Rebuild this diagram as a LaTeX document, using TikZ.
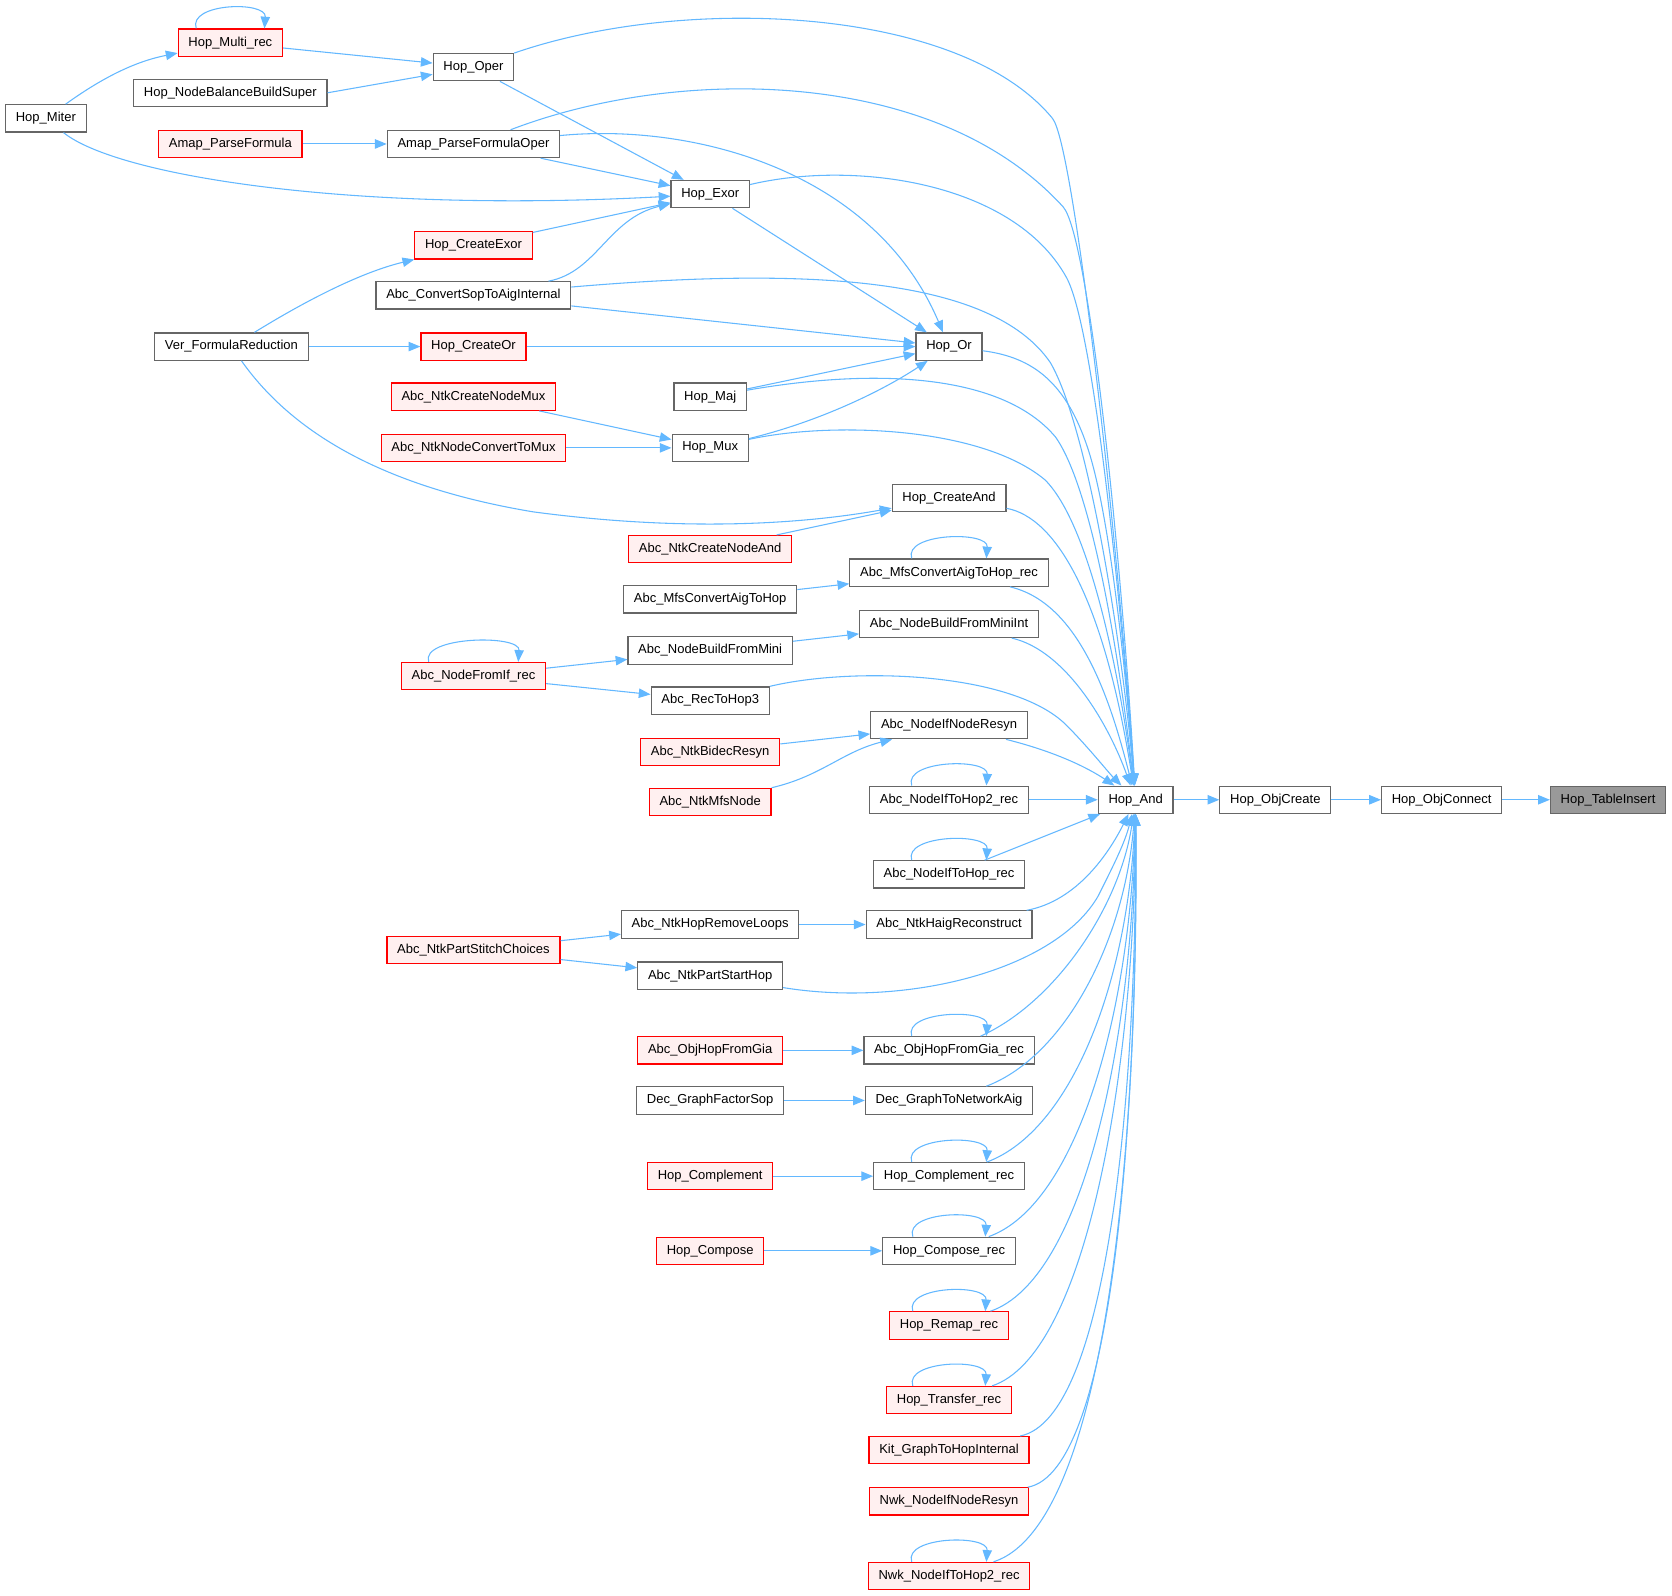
\documentclass[tikz,border=0pt]{standalone}
\usepackage{fontspec}
\setmainfont{Liberation Sans}
\usepackage{tikz}
\usetikzlibrary{arrows.meta}
\definecolor{edgeblue}{HTML}{63B8FF}
\definecolor{nodegray}{HTML}{666666}
\definecolor{nodered}{HTML}{FF0000}
\definecolor{nodepink}{HTML}{FFF0F0}
\definecolor{rootgray}{HTML}{999999}

\begin{document}
\begin{tikzpicture}[
  x=0.5pt, y=-0.5pt,
  font=\fontsize{6.1}{7.3}\selectfont,
  fn/.style={draw=nodegray, fill=white, inner xsep=4.8pt, inner ysep=0pt, minimum height=12.8pt, line width=0.55pt},
  fnred/.style={fn, draw=nodered, fill=nodepink},
  fnroot/.style={fn, fill=rootgray},
  arrow/.style={-{Triangle[length=5.5pt,width=4.4pt]}, draw=edgeblue, line width=0.5pt}
]
\path[fill=white, use as bounding box] (0,0) rectangle (1568,1496);

\node[fnred] (multirec) at (216,40) {Hop\_Multi\_rec};
\node[fn] (oper) at (444,63) {Hop\_Oper};
\node[fn] (nbbs) at (216,87) {Hop\_NodeBalanceBuildSuper};
\node[fn] (miter) at (43,111) {Hop\_Miter};
\node[fnred] (amapf) at (216,135) {Amap\_ParseFormula};
\node[fn] (amapoper) at (444,135) {Amap\_ParseFormulaOper};
\node[fn] (exor) at (666,182) {Hop\_Exor};
\node[fnred] (createexor) at (444,230) {Hop\_CreateExor};
\node[fn] (convsop) at (444,277) {Abc\_ConvertSopToAigInternal};
\node[fn] (verfr) at (217,325) {Ver\_FormulaReduction};
\node[fnred] (createor) at (444,325) {Hop\_CreateOr};
\node[fn] (hopor) at (890,325) {Hop\_Or};
\node[fn] (maj) at (666,372) {Hop\_Maj};
\node[fnred] (createmux) at (444,372) {Abc\_NtkCreateNodeMux};
\node[fnred] (convmux) at (444,420) {Abc\_NtkNodeConvertToMux};
\node[fn] (mux) at (666,420) {Hop\_Mux};
\node[fn] (createand) at (890,467) {Hop\_CreateAnd};
\node[fnred] (ntkand) at (666,515) {Abc\_NtkCreateNodeAnd};
\node[fn] (mfsrec) at (890,537) {Abc\_MfsConvertAigToHop\_rec};
\node[fn] (mfs) at (666,562) {Abc\_MfsConvertAigToHop};
\node[fn] (miniint) at (890,585) {Abc\_NodeBuildFromMiniInt};
\node[fn] (mini) at (666,610) {Abc\_NodeBuildFromMini};
\node[fnred] (ifrec) at (444,634) {Abc\_NodeFromIf\_rec};
\node[fn] (rec3) at (666,657) {Abc\_RecToHop3};
\node[fn] (ifresyn) at (890,680) {Abc\_NodeIfNodeResyn};
\node[fnred] (bidec) at (666,705) {Abc\_NtkBidecResyn};
\node[fnred] (mfsnode) at (666,752) {Abc\_NtkMfsNode};
\node[fn] (if2rec) at (890,750) {Abc\_NodeIfToHop2\_rec};
\node[fn] (hopand) at (1065,750) {Hop\_And};
\node[fn] (objcreate) at (1196,750) {Hop\_ObjCreate};
\node[fn] (objconnect) at (1352,750) {Hop\_ObjConnect};
\node[fnroot] (tableinsert) at (1508,750) {Hop\_TableInsert};
\node[fn] (iftohoprec) at (890,820) {Abc\_NodeIfToHop\_rec};
\node[fn] (removeloops) at (666,867) {Abc\_NtkHopRemoveLoops};
\node[fn] (haig) at (890,867) {Abc\_NtkHaigReconstruct};
\node[fnred] (stitch) at (444,891) {Abc\_NtkPartStitchChoices};
\node[fn] (starthop) at (666,915) {Abc\_NtkPartStartHop};
\node[fnred] (gia) at (666,985) {Abc\_ObjHopFromGia};
\node[fn] (giarec) at (890,985) {Abc\_ObjHopFromGia\_rec};
\node[fn] (factorsop) at (666,1032) {Dec\_GraphFactorSop};
\node[fn] (tonetwork) at (890,1032) {Dec\_GraphToNetworkAig};
\node[fnred] (compl) at (666,1103) {Hop\_Complement};
\node[fn] (complrec) at (890,1103) {Hop\_Complement\_rec};
\node[fnred] (compose) at (666,1173) {Hop\_Compose};
\node[fn] (composerec) at (890,1173) {Hop\_Compose\_rec};
\node[fnred] (remaprec) at (890,1243) {Hop\_Remap\_rec};
\node[fnred] (transferrec) at (890,1313) {Hop\_Transfer\_rec};
\node[fnred] (kitgraph) at (890,1360) {Kit\_GraphToHopInternal};
\node[fnred] (nwkresyn) at (890,1408) {Nwk\_NodeIfNodeResyn};
\node[fnred] (nwkif2rec) at (890,1478) {Nwk\_NodeIfToHop2\_rec};

\foreach \n/\w in {multirec/16, mfsrec/17.5, ifrec/21, if2rec/17.5, iftohoprec/17.5, giarec/17.5, complrec/17.5, composerec/17, remaprec/17, transferrec/17, nwkif2rec/17.5}
  \draw[arrow] ([xshift=-\w pt]\n.north) .. controls +(-4pt,12pt) and +(1pt,13pt) .. ([xshift=\w pt]\n.north);

\draw[arrow] (miter) .. controls (100,70) and (130,57) .. (multirec);
\draw[arrow] (multirec) -- (oper);
\draw[arrow] (nbbs.east) -- (oper);
\draw[arrow] (oper) -- (exor);
\draw[arrow] (oper) .. controls (640,-5) and (900,5) .. (987,111) .. controls (1007,135) and (1048,500) .. (hopand);
\draw[arrow] (amapf) -- (amapoper);
\draw[arrow] (amapoper) -- (exor);
\draw[arrow] (amapoper) .. controls (650,115) and (820,160) .. (hopor);
\draw[arrow] (amapoper) .. controls (640,60) and (880,65) .. (997,194) .. controls (1020,220) and (1050,500) .. (hopand);
\draw[arrow] (miter) .. controls (110,165) and (330,200) .. (exor);
\draw[arrow] (createexor) -- (exor);
\draw[arrow] (convsop) .. controls (560,255) and (570,205) .. (exor);
\draw[arrow] (convsop) -- (hopor);
\draw[arrow] (convsop) .. controls (760,250) and (930,260) .. (985,340) .. controls (1020,400) and (1052,600) .. (hopand);
\draw[arrow] (exor) -- (hopor);
\draw[arrow] (exor) .. controls (800,150) and (950,170) .. (1000,260) .. controls (1025,305) and (1050,550) .. (hopand);
\draw[arrow] (verfr) .. controls (290,280) and (340,255) .. (createexor);
\draw[arrow] (verfr) -- (createor);
\draw[arrow] (verfr) .. controls (270,400) and (350,455) .. (500,480) .. controls (650,500) and (760,490) .. (createand);
\draw[arrow] (createor) -- (hopor);
\draw[arrow] (hopor) .. controls (970,335) and (1000,360) .. (1020,420) .. controls (1040,480) and (1055,620) .. (hopand);
\draw[arrow] (maj) -- (hopor);
\draw[arrow] (maj) .. controls (820,345) and (940,350) .. (990,410) .. controls (1025,460) and (1050,620) .. (hopand);
\draw[arrow] (createmux) -- (mux);
\draw[arrow] (convmux) -- (mux);
\draw[arrow] (mux) .. controls (770,395) and (830,365) .. (hopor);
\draw[arrow] (mux) .. controls (780,395) and (920,400) .. (980,450) .. controls (1020,490) and (1048,620) .. (hopand);
\draw[arrow] (createand) .. controls (990,485) and (1035,560) .. (hopand);
\draw[arrow] (ntkand) -- (createand);
\draw[arrow] (mfs) -- (mfsrec);
\draw[arrow] (mfsrec) .. controls (1010,565) and (1040,650) .. (hopand);
\draw[arrow] (mini) -- (miniint);
\draw[arrow] (miniint) .. controls (1000,610) and (1040,680) .. (hopand);
\draw[arrow] (ifrec) -- (mini);
\draw[arrow] (ifrec) -- (rec3);
\draw[arrow] (rec3) .. controls (800,625) and (950,630) .. (1000,680) .. controls (1020,700) and (1040,725) .. (hopand);
\draw[arrow] (bidec) -- (ifresyn);
\draw[arrow] (mfsnode) .. controls (770,728) and (790,705) .. (ifresyn);
\draw[arrow] (ifresyn) .. controls (990,705) and (1020,720) .. (hopand);
\draw[arrow] (if2rec) -- (hopand);
\draw[arrow] (hopand) -- (objcreate);
\draw[arrow] (objcreate) -- (objconnect);
\draw[arrow] (objconnect) -- (tableinsert);
\draw[arrow] (iftohoprec) -- (hopand);
\draw[arrow] (removeloops) -- (haig);
\draw[arrow] (haig) .. controls (1010,845) and (1040,800) .. (hopand);
\draw[arrow] (stitch) -- (removeloops);
\draw[arrow] (stitch) -- (starthop);
\draw[arrow] (starthop) .. controls (850,945) and (990,910) .. (1030,840) .. controls (1045,810) and (1055,790) .. (hopand);
\draw[arrow] (gia) -- (giarec);
\draw[arrow] (giarec) .. controls (990,940) and (1050,850) .. (hopand);
\draw[arrow] (factorsop) -- (tonetwork);
\draw[arrow] (tonetwork) .. controls (1000,990) and (1055,880) .. (hopand);
\draw[arrow] (compl) -- (complrec);
\draw[arrow] (complrec) .. controls (1005,1060) and (1058,920) .. (hopand);
\draw[arrow] (compose) -- (composerec);
\draw[arrow] (composerec) .. controls (1010,1130) and (1060,950) .. (hopand);
\draw[arrow] (remaprec) .. controls (1015,1200) and (1062,980) .. (hopand);
\draw[arrow] (transferrec) .. controls (1020,1270) and (1064,1000) .. (hopand);
\draw[arrow] (kitgraph) .. controls (1040,1330) and (1066,1020) .. (hopand);
\draw[arrow] (nwkresyn) .. controls (1045,1380) and (1067,1040) .. (hopand);
\draw[arrow] (nwkif2rec) .. controls (1040,1430) and (1068,1060) .. (hopand);
\end{tikzpicture}
\end{document}
